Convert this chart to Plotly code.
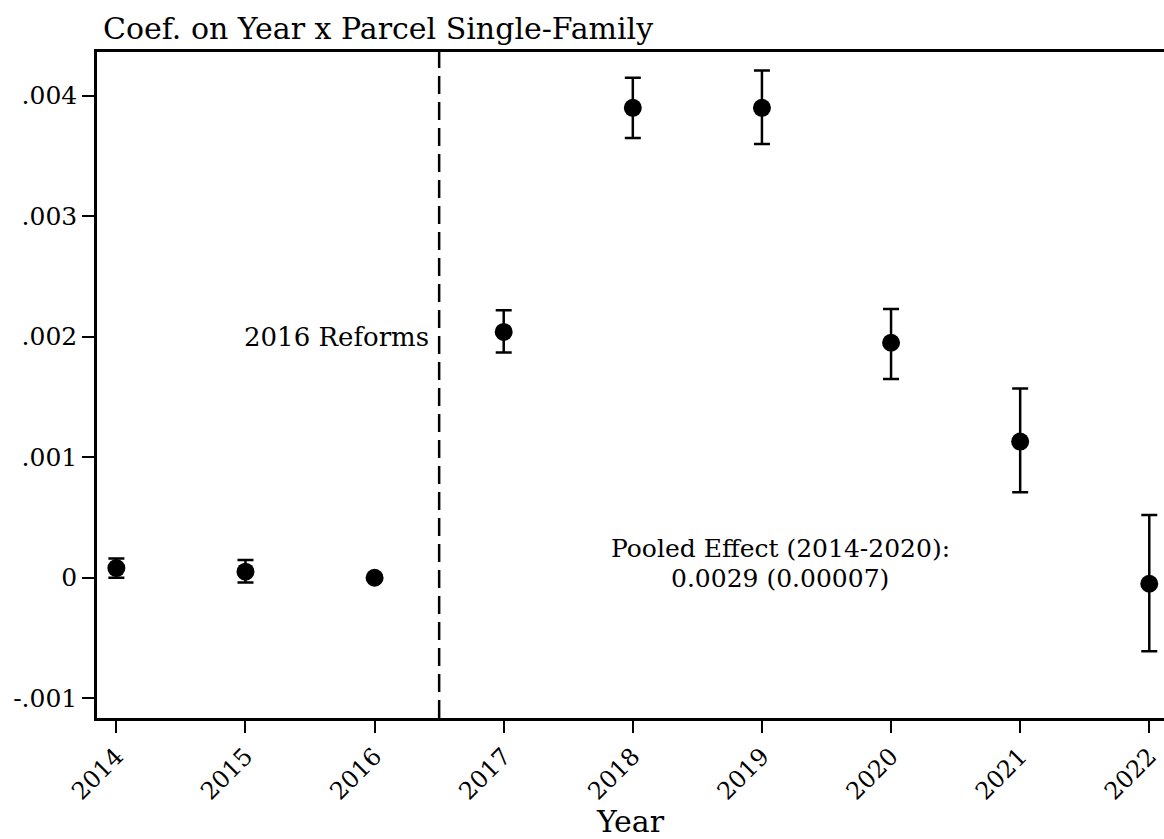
import plotly.graph_objects as go

years = [2014, 2015, 2016, 2017, 2018, 2019, 2020, 2021, 2022]
coef = [0.00008, 0.00005, 0.0, 0.00204, 0.00390, 0.00390, 0.00195, 0.00113, -0.00005]
ci_hi = [0.00016, 0.000147, 0.0, 0.00222, 0.00415, 0.00421, 0.00223, 0.00157, 0.00052]
ci_lo = [0.0, -0.00004, 0.0, 0.00187, 0.00365, 0.00360, 0.00165, 0.00071, -0.00061]

ytick_vals = [-0.001, 0, 0.001, 0.002, 0.003, 0.004]
ytick_text = ["-.001", "0", ".001", ".002", ".003", ".004"]
xtick_text = [str(y) for y in years]

reform_x = 2016.5
title_text = "Coef. on Year x Parcel Single-Family"
pooled_lines = ["Pooled Effect (2014-2020):", "0.0029 (0.00007)"]
pooled_y = [0.00024, -0.00001]

FONT = "DejaVu Serif"

err_plus = [h - c for h, c in zip(ci_hi, coef)]
err_minus = [c - l for c, l in zip(coef, ci_lo)]
show_err = [i for i, (p, m) in enumerate(zip(err_plus, err_minus)) if p + m > 0]

fig = go.Figure()
fig.add_trace(go.Scatter(
    x=[years[i] for i in show_err],
    y=[coef[i] for i in show_err],
    mode="markers",
    marker=dict(size=0.1, color="black", opacity=0),
    error_y=dict(type="data", symmetric=False,
                 array=[err_plus[i] for i in show_err],
                 arrayminus=[err_minus[i] for i in show_err],
                 color="black", thickness=2.5, width=8),
    showlegend=False, hoverinfo="skip",
))
fig.add_trace(go.Scatter(
    x=years, y=coef, mode="markers",
    marker=dict(size=18, color="black"),
    showlegend=False,
))

fig.add_shape(type="line", xref="x", yref="paper", x0=reform_x, x1=reform_x, y0=0, y1=1,
              line=dict(color="black", width=2.5, dash="18px,8px"))

fig.add_annotation(x=reform_x, y=0.002, xref="x", yref="y", text="2016 Reforms",
                   showarrow=False, xanchor="right", yanchor="middle", xshift=-8,
                   font=dict(family=FONT, size=26, color="black"))
for txt, yv in zip(pooled_lines, pooled_y):
    fig.add_annotation(x=2019.14, y=yv, xref="x", yref="y", text=txt,
                       showarrow=False, xanchor="center", yanchor="middle",
                       font=dict(family=FONT, size=25, color="black"))

fig.update_layout(
    width=1164, height=839,
    margin=dict(l=97, r=0, t=52, b=121),
    paper_bgcolor="white", plot_bgcolor="white",
    font=dict(family=FONT, color="black"),
    title=dict(text=title_text, x=103/1164, xref="container", xanchor="left",
               y=1 - 28/839, yref="container", yanchor="middle",
               font=dict(family=FONT, size=30, color="black")),
)
fig.update_xaxes(
    range=[2013.85, 2022.114], tickvals=years, ticktext=xtick_text, tickangle=-45,
    showgrid=False, zeroline=False, showline=True, linecolor="black", linewidth=2.5,
    mirror=True, ticks="outside", ticklen=12, tickwidth=2, tickcolor="black",
    tickfont=dict(family=FONT, size=24, color="black"),
    title=dict(text="Year", font=dict(family=FONT, size=30, color="black"), standoff=8),
)
fig.update_yaxes(
    range=[-0.001164, 0.004363], tickvals=ytick_vals, ticktext=ytick_text,
    showgrid=False, zeroline=False, showline=True, linecolor="black", linewidth=2.5,
    ticks="outside", ticklen=12, tickwidth=2, tickcolor="black",
    tickfont=dict(family=FONT, size=25, color="black"),
)

fig.write_html("out.html")
